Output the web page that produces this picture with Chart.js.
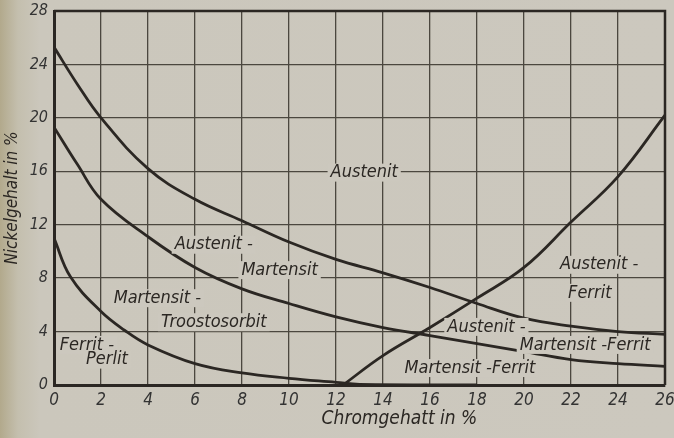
<!DOCTYPE html>
<html>
<head>
<meta charset="utf-8">
<script src="https://cdn.jsdelivr.net/npm/chart.js@4"></script>
<style>
  html, body { margin: 0; padding: 0; }
  body {
    width: 674px; height: 438px; overflow: hidden;
    background: linear-gradient(to right, #b2a98c 0px, #c4bfae 18px, #cbc7bc 40px, #ccc8be 100%);
  }
  #wrap { position: relative; width: 674px; height: 438px; }
</style>
</head>
<body>
<div id="wrap"><canvas id="chart" width="674" height="438"></canvas></div>
<script>
// Phase boundaries (Cr % -> Ni %)
const austenitCr = [0, 1, 2, 4, 6, 8, 10, 12, 14, 16, 18, 20, 22, 24, 26];
const austenitNi = [25.3, 22.5, 20, 16.2, 13.9, 12.3, 10.7, 9.4, 8.4, 7.3, 6.1, 5.0, 4.4, 4.0, 3.8];

const martensitCr = [0, 1, 2, 4, 6, 8, 10, 12, 14, 16, 18, 20, 22, 24, 26];
const martensitNi = [19.3, 16.5, 13.9, 11.1, 8.8, 7.2, 6.1, 5.1, 4.3, 3.7, 3.1, 2.5, 1.9, 1.6, 1.4];

const perlitCr = [0, 0.7, 2, 3, 4, 6, 8, 10, 12, 13, 18];
const perlitNi = [11, 8.1, 5.5, 4.1, 3.0, 1.6, 0.9, 0.5, 0.2, 0.05, 0];

const ferritCr = [12.3, 14, 16, 18, 20, 22, 24, 26];
const ferritNi = [0, 2.2, 4.3, 6.5, 8.8, 12.2, 15.6, 20.2];

const xTicks = [0, 2, 4, 6, 8, 10, 12, 14, 16, 18, 20, 22, 24, 26];
const yTicks = [0, 4, 8, 12, 16, 20, 24, 28];

// Region names placed in the field
const regionText = ['Austenit', 'Austenit -', 'Martensit', 'Martensit -', 'Troostosorbit',
  'Ferrit -', 'Perlit', 'Austenit -', 'Ferrit', 'Austenit -', 'Martensit -Ferrit', 'Martensit -Ferrit'];
const regionCr = [13.2, 6.8, 9.6, 4.4, 6.8, 1.4, 2.25, 23.2, 22.8, 18.4, 22.6, 17.7];
const regionNi = [15.9, 10.5, 8.6, 6.5, 4.7, 3.0, 1.9, 9.0, 6.9, 4.35, 3.0, 1.27];

const xTitle = 'Chromgehatt in %';

const paper = '#ccc8be';
const ink = '#2b2723';
const gridInk = '#4b473f';
const font = "'Liberation Sans Narrow', 'DejaVu Sans Condensed', 'Liberation Sans', sans-serif";

const toPoints = (xs, ys) => xs.map((x, i) => ({ x, y: ys[i] }));

const curve = (xs, ys) => ({
  data: toPoints(xs, ys),
  borderColor: ink,
  borderWidth: 2.8,
  pointRadius: 0,
  fill: false,
  tension: 0.4
});

const regionLabels = {
  id: 'regionLabels',
  afterDatasetsDraw(chart) {
    const { ctx, scales: { x, y } } = chart;
    ctx.save();
    ctx.font = 'italic 18px ' + font;
    ctx.textAlign = 'center';
    ctx.textBaseline = 'middle';
    regionText.forEach((t, i) => {
      const px = x.getPixelForValue(regionCr[i]);
      const py = y.getPixelForValue(regionNi[i]);
      const w = ctx.measureText(t).width;
      ctx.fillStyle = paper;
      ctx.fillRect(px - w / 2 - 3, py - 9, w + 6, 18);
      ctx.fillStyle = ink;
      ctx.fillText(t, px, py);
    });
    // x axis title sits right of centre in the original
    ctx.font = 'italic 19px ' + font;
    ctx.fillText(xTitle, x.getPixelForValue(14.7), 419);
    ctx.restore();
  }
};

new Chart(document.getElementById('chart'), {
  type: 'line',
  data: {
    datasets: [
      curve(austenitCr, austenitNi),
      curve(martensitCr, martensitNi),
      curve(perlitCr, perlitNi),
      curve(ferritCr, ferritNi)
    ]
  },
  options: {
    responsive: false,
    animation: false,
    layout: { padding: { top: 11, right: 9, bottom: 0, left: 2 } },
    plugins: { legend: { display: false }, tooltip: { enabled: false } },
    scales: {
      x: {
        type: 'linear',
        min: 0, max: 26,
        afterBuildTicks: s => { s.ticks = xTicks.map(v => ({ value: v })); },
        afterFit: s => { s.height = 53; s.paddingRight = 0; s.paddingLeft = 0; },
        grid: { color: gridInk, lineWidth: 1.3, drawTicks: false },
        border: { color: ink, width: 3 },
        ticks: { color: '#333', font: { family: font, size: 17, style: 'italic' }, padding: 5 }
      },
      y: {
        min: 0, max: 28,
        afterBuildTicks: s => { s.ticks = yTicks.map(v => ({ value: v })); },
        afterFit: s => { s.width = 52; s.paddingTop = 0; s.paddingBottom = 0; },
        grid: { color: gridInk, lineWidth: 1.3, drawTicks: false },
        border: { color: ink, width: 3 },
        ticks: { color: '#333', font: { family: font, size: 16, style: 'italic' }, padding: 6 },
        title: { display: true, text: 'Nickelgehalt in %', color: ink,
          font: { family: font, size: 17, style: 'italic' }, padding: 0 }
      }
    }
  },
  plugins: [regionLabels, {
    id: 'frame',
    afterDraw(chart) {
      const { ctx, chartArea: a } = chart;
      ctx.save();
      ctx.strokeStyle = ink;
      ctx.lineWidth = 2.5;
      ctx.beginPath();
      ctx.moveTo(a.left, a.top);
      ctx.lineTo(a.right, a.top);
      ctx.lineTo(a.right, a.bottom);
      ctx.stroke();
      ctx.restore();
    }
  }]
});
</script>
</body>
</html>
